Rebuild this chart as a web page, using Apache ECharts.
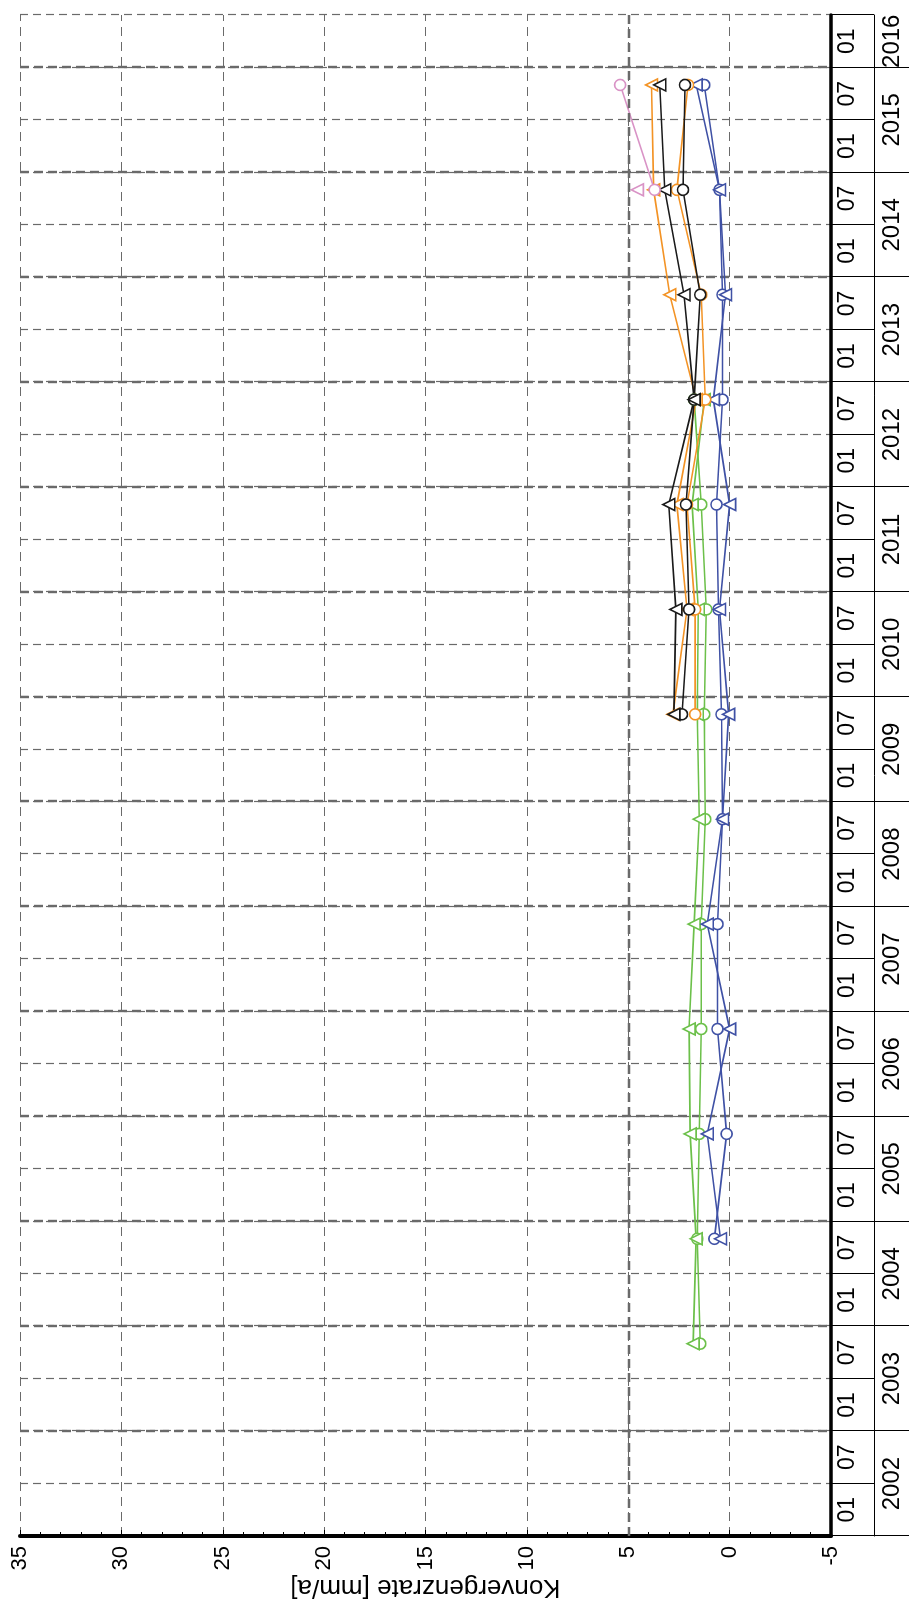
<!DOCTYPE html>
<html>
<head>
<meta charset="utf-8">
<script src="https://cdn.jsdelivr.net/npm/echarts@6/dist/echarts.min.js"></script>
<style>
  html, body { margin: 0; padding: 0; background: #fff; }
  body { width: 909px; height: 1602px; overflow: hidden; position: relative; }
  /* chart is drawn landscape and turned by 90deg like the scanned sheet */
  #chart { position: absolute; left: 0; top: 0; width: 1602px; height: 909px;
    transform-origin: 0 0; transform: translate(0, 1602px) rotate(-90deg); }
</style>
</head>
<body>
<div id="chart"></div>
<script>
// Messzeitpunkte (jeweils November)
const dates = ['2003-11', '2004-11', '2005-11', '2006-11', '2007-11', '2008-11', '2009-11',
  '2010-11', '2011-11', '2012-11', '2013-11', '2014-11', '2015-11'];

// Konvergenzraten [mm/a], null = keine Messung
const greenCircle    = [1.45, 1.6, 1.5, 1.4, 1.4, 1.2, 1.25, 1.15, 1.4, 1.75, null, null, null];
const greenTriangle  = [1.8, 1.65, 1.95, 2.0, 1.75, 1.5, 1.6, 1.55, 1.85, 1.25, null, null, null];
const blueCircle     = [null, 0.75, 0.15, 0.6, 0.6, 0.35, 0.4, 0.55, 0.65, 0.35, 0.35, 0.5, 1.25];
const blueTriangle   = [null, 0.45, 1.1, 0.0, 1.1, 0.35, 0.05, 0.5, 0.0, 0.8, 0.2, 0.5, 1.65];
const orangeCircle   = [null, null, null, null, null, null, 1.7, 1.7, 2.1, 1.2, 1.4, 2.6, 2.05];
const orangeTriangle = [null, null, null, null, null, null, 2.8, 2.1, 2.6, 1.65, 2.95, 3.75, 3.85];
const blackCircle    = [null, null, null, null, null, null, 2.35, 2.0, 2.15, 1.75, 1.45, 2.3, 2.2];
const blackTriangle  = [null, null, null, null, null, null, 2.75, 2.65, 3.0, 1.75, 2.25, 3.2, 3.45];
const pinkCircle     = [null, null, null, null, null, null, null, null, null, null, null, 3.7, 5.4];
const pinkTriangle   = [null, null, null, null, null, null, null, null, null, null, null, 4.55, null];

// Achsen
const yearMin = 2002, yearMax = 2016.5;
const valueTicks = [-5, 0, 5, 10, 15, 20, 25, 30, 35];

const toYear = s => {
  const [y, m] = s.split('-').map(Number);
  return y + (m - 1) / 12;
};
const xs = dates.map(toYear);
const pairs = vals => vals.map((v, i) => (v == null ? null : [xs[i], v])).filter(Boolean);

const halfYearTicks = [];
const monthLabelPos = [];
for (let y = yearMin; y <= yearMax; y += 0.5) {
  halfYearTicks.push(y);
  if (y < yearMax) monthLabelPos.push(y + 0.25);
}
const yearTicks = [];
const yearLabelPos = [];
for (let y = 2002; y <= 2016; y++) {
  yearTicks.push(y);
  yearLabelPos.push(y < 2016 ? y + 0.5 : y + 0.25);
}

const font = 'Liberation Sans, Arial, sans-serif';
const gridGrey = '#6a6a6a';

const mkSeries = (name, data, color, symbol) => ({
  name: name,
  type: 'line',
  data: pairs(data),
  symbol: symbol,
  symbolSize: symbol === 'circle' ? 11 : 12,
  showAllSymbol: true,
  lineStyle: { color: color, width: 1.6 },
  itemStyle: { color: '#fff', borderColor: color, borderWidth: 1.6 },
  z: 3
});

const series = [
  mkSeries('gruen O', greenCircle, '#6cc04a', 'circle'),
  mkSeries('gruen T', greenTriangle, '#6cc04a', 'triangle'),
  mkSeries('blau O', blueCircle, '#3f51a5', 'circle'),
  mkSeries('blau T', blueTriangle, '#3f51a5', 'triangle'),
  mkSeries('orange O', orangeCircle, '#f39325', 'circle'),
  mkSeries('orange T', orangeTriangle, '#f39325', 'triangle'),
  mkSeries('schwarz O', blackCircle, '#1a1a1a', 'circle'),
  mkSeries('schwarz T', blackTriangle, '#1a1a1a', 'triangle'),
  mkSeries('rosa O', pinkCircle, '#d993c6', 'circle'),
  mkSeries('rosa T', pinkTriangle, '#d993c6', 'triangle')
];
// kraeftigere Gitterlinie bei 5 mm/a
series[0].markLine = {
  silent: true,
  symbol: ['none', 'none'],
  label: { show: false },
  lineStyle: { color: gridGrey, type: [9, 5], width: 2.4 },
  data: [{ yAxis: 5 }]
};

const chart = echarts.init(document.getElementById('chart'));
chart.setOption({
  animation: false,
  backgroundColor: '#fff',
  grid: { left: 66, right: 15, top: 20, bottom: 78, outerBoundsMode: 'none', containLabel: false },
  xAxis: [
    {
      type: 'value',
      min: yearMin,
      max: yearMax,
      position: 'bottom',
      axisLine: { onZero: false, lineStyle: { color: '#000', width: 3.5 } },
      axisTick: { customValues: halfYearTicks, length: 43, lineStyle: { color: '#000', width: 1 } },
      axisLabel: {
        customValues: monthLabelPos,
        formatter: v => ((v % 1) < 0.5 ? '01' : '07'),
        color: '#000', fontSize: 23, fontFamily: font, margin: 5
      },
      splitLine: { show: true, lineStyle: { color: gridGrey, type: [8, 5], width: 1.2 } }
    },
    {
      type: 'value',
      min: yearMin,
      max: yearMax,
      position: 'bottom',
      offset: 43,
      axisLine: { onZero: false, lineStyle: { color: '#000', width: 1 } },
      axisTick: { customValues: yearTicks, length: 40, lineStyle: { color: '#000', width: 1 } },
      axisLabel: {
        customValues: yearLabelPos,
        formatter: v => String(Math.floor(v)),
        color: '#000', fontSize: 24, fontFamily: font, margin: 6
      },
      splitLine: { show: true, lineStyle: { color: gridGrey, type: [9, 5], width: 2.4 } }
    }
  ],
  yAxis: {
    type: 'value',
    min: -5,
    max: 35,
    interval: 5,
    name: 'Konvergenzrate [mm/a]',
    nameLocation: 'middle',
    nameGap: 38,
    nameMoveOverlap: false,
    nameTextStyle: { color: '#000', fontSize: 26, fontFamily: font },
    axisLine: { show: true, onZero: false, lineStyle: { color: '#000', width: 4 } },
    axisTick: { show: true, inside: true, length: 6, lineStyle: { color: '#000', width: 1 } },
    minorTick: { show: true, splitNumber: 5, length: 4, lineStyle: { color: '#000', width: 1 } },
    axisLabel: {
      customValues: valueTicks,
      color: '#000', fontSize: 22, fontFamily: font, margin: 10
    },
    splitLine: { show: true, lineStyle: { color: gridGrey, type: [9, 6], width: 1.2 } }
  },
  series: series
});
</script>
</body>
</html>
